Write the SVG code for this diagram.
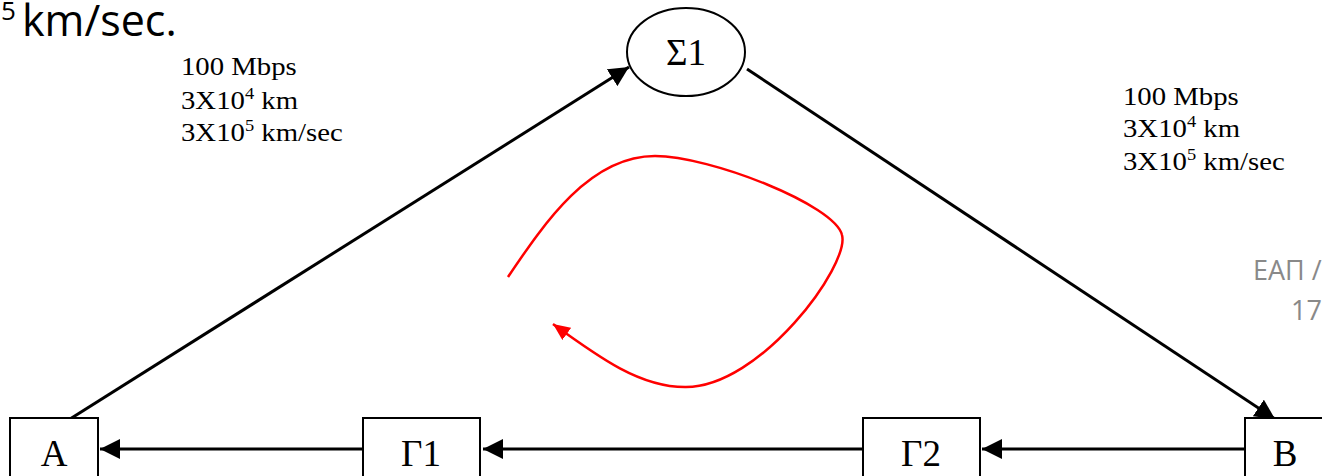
<svg xmlns="http://www.w3.org/2000/svg" width="1322" height="476" viewBox="0 0 1322 476">
<style>
.box{fill:#fff;stroke:#000;stroke-width:2}
.lbl{font-family:"Liberation Serif","Times New Roman",serif;font-size:37px;fill:#000}
.info{font-family:"Liberation Serif","Times New Roman",serif;font-size:25px;fill:#000}
.sup{font-size:16px}
.conn{stroke:#000;stroke-width:3;fill:none}
.gray{font-family:"Open Sans","Liberation Sans",sans-serif;font-size:27px;fill:#898989}
</style>
<defs>
<marker id="ah" markerUnits="userSpaceOnUse" markerWidth="20" markerHeight="20" refX="20" refY="10" orient="auto">
<path d="M0,0 L20,10 L0,20 z" fill="#000"/>
</marker>
<marker id="ahr" markerUnits="userSpaceOnUse" markerWidth="17" markerHeight="15" refX="17" refY="7.5" orient="auto">
<path d="M0,0 L17,7.5 L0,15 z" fill="#f00"/>
</marker>
</defs>
<rect width="1322" height="476" fill="#fff"/>
<text x="1" y="36" font-family="'Open Sans','Liberation Sans',sans-serif" font-size="43" fill="#000"><tspan font-size="26" dy="-16">5</tspan><tspan x="22" dy="16">km/sec.</tspan></text>
<g id="labels">
<g transform="translate(181,75) scale(1.15,1)"><text class="info" x="0" y="0">100 Mbps</text><text class="info" x="0" y="34">3X10<tspan class="sup" dy="-10">4</tspan><tspan dy="10"> km</tspan></text><text class="info" x="0" y="66">3X10<tspan class="sup" dy="-10">5</tspan><tspan dy="10"> km/sec</tspan></text></g>
<g transform="translate(1123,105) scale(1.15,1)"><text class="info" x="0" y="0">100 Mbps</text><text class="info" x="0" y="32">3X10<tspan class="sup" dy="-10">4</tspan><tspan dy="10"> km</tspan></text><text class="info" x="0" y="65">3X10<tspan class="sup" dy="-10">5</tspan><tspan dy="10"> km/sec</tspan></text></g>
<text class="gray" x="1253" y="280">ΕΑΠ /</text>
<text class="gray" x="1291" y="320">17</text>
</g>
<g id="connectors">
<line class="conn" x1="70" y1="419" x2="629" y2="67" marker-end="url(#ah)"/>
<line class="conn" x1="747" y1="69" x2="1275" y2="419" marker-end="url(#ah)"/>
<line class="conn" x1="363" y1="449" x2="100" y2="449" marker-end="url(#ah)"/>
<line class="conn" x1="863" y1="449" x2="483" y2="449" marker-end="url(#ah)"/>
<line class="conn" x1="1245" y1="449" x2="982" y2="449" marker-end="url(#ah)"/>
<path d="M508,277 C545,222 590,156 655,156 C710,156 835,205 842,235 C850,265 760,388 685,387 C640,387 600,358 553,324" fill="none" stroke="#f00" stroke-width="2.5" marker-end="url(#ahr)"/>
</g>
<g id="S1"><ellipse class="box" cx="686" cy="52" rx="59" ry="44"/><text class="lbl" x="686" y="65" text-anchor="middle">Σ1</text></g>
<g id="A"><rect class="box" x="10" y="418" width="88" height="70"/><text class="lbl" x="54" y="466" text-anchor="middle">A</text></g>
<g id="G1"><rect class="box" x="363" y="418" width="117" height="70"/><text class="lbl" x="421" y="466" text-anchor="middle">Γ1</text></g>
<g id="G2"><rect class="box" x="863" y="418" width="117" height="70"/><text class="lbl" x="921" y="466" text-anchor="middle">Γ2</text></g>
<g id="B"><rect class="box" x="1245" y="418" width="90" height="70"/><text class="lbl" x="1285" y="466" text-anchor="middle">B</text></g>
</svg>
